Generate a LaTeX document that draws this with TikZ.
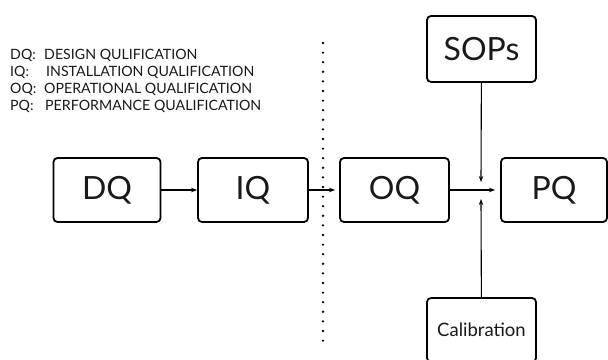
\documentclass[tikz,border=0pt]{standalone}
\usepackage{fontspec}
\setmainfont{Lato}
\usetikzlibrary{arrows.meta}
\begin{document}
\begin{tikzpicture}[x=1pt,y=1pt,
  box/.style={draw=black, line width=1.8pt, rounded corners=4pt, inner sep=0pt, text=black!90},
  big/.style={box, font=\fontsize{32}{32}\selectfont},
  conn/.style={line width=1.1pt, -{Stealth[length=6pt,width=4.5pt]}},
  leg/.style={anchor=base west, inner sep=0pt, font=\fontsize{14.2}{14.2}\selectfont, text=black!90}]
\useasboundingbox (0,0) rectangle (608,359);
% legend
\node[leg] (l1) at (10,299) {DQ:};
\node[leg] (l2) at (10,282) {IQ:};
\node[leg] (l3) at (10,265) {OQ:};
\node[leg] (l4) at (10,248) {PQ:};
\node[leg] (d1) at (44,299) {DESIGN QULIFICATION};
\node[leg] (d2) at (46,282) {INSTALLATION QUALIFICATION};
\node[leg] (d3) at (44,265) {OPERATIONAL QUALIFICATION};
\node[leg] (d4) at (45,248) {PERFORMANCE QUALIFICATION};
% divider
\coordinate (dt) at (323,316);
\coordinate (db) at (323,9);
\draw[line width=2.6pt, line cap=round, dash pattern=on 0pt off 9.6pt] (dt) -- (db);
% boxes
\node[big, minimum width=107pt, minimum height=64pt] (dq) at (107,169) {DQ};
\node[big, minimum width=110pt, minimum height=64pt] (iq) at (253,169) {IQ};
\node[big, minimum width=109pt, minimum height=64pt] (oq) at (394.5,169) {OQ};
\node[big, minimum width=106pt, minimum height=64pt] (pq) at (554,169) {PQ};
\node[big, minimum width=109pt, minimum height=66pt] (sop) at (481.5,310) {SOPs};
\node[box, minimum width=109pt, minimum height=64pt, font=\fontsize{18.5}{18.5}\selectfont] (cal) at (481.5,29) {Calibration};
% connectors
\coordinate (top) at (481,177);
\coordinate (bot) at (481,160);
\draw[conn] (dq) -- (iq);
\draw[conn] (iq.east) -- (335,169);
\draw[conn] (oq) -- (pq.west -| 495,0);
\draw[conn] (sop) -- (top);
\draw[conn] (cal) -- (bot);
\end{tikzpicture}
\end{document}
